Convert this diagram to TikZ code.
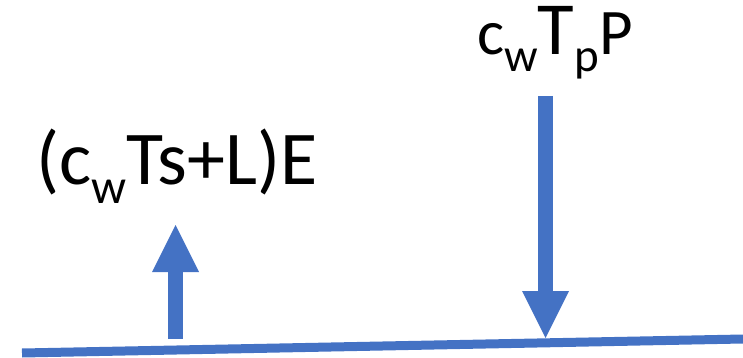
\documentclass[tikz,border=0pt]{standalone}
\usepackage{fontspec}
\setmainfont{Carlito}
\usetikzlibrary{arrows.meta}
\definecolor{beamblue}{RGB}{68,114,196}

\begin{document}
\begin{tikzpicture}[
  x=1pt, y=-1pt,
  lbl/.style={inner sep=0pt, anchor=base west, text=black},
  force/.style={beamblue, line width=15.6pt,
                -{Triangle[length=47pt, width=47pt, line width=0pt]}},
  beam/.style={beamblue, line width=9pt}
]
  \useasboundingbox (0,0) rectangle (743,358);
  % beam
  \coordinate (bl) at (22,353);
  \coordinate (br) at (743,339);
  \draw[beam] (bl) -- (br);
  % forces
  \coordinate (upfoot) at (175.5,339);
  \coordinate (uptip) at (175.5,225);
  \coordinate (dntail) at (545.5,96);
  \coordinate (dntip) at (545.5,338);
  \draw[force] (upfoot) -- (uptip);
  \draw[force] (dntail) -- (dntip);
  % labels
  \node[lbl] (react) at (36,184) {\fontsize{76}{76}\selectfont
    (c\raisebox{-19pt}{\fontsize{49}{49}\selectfont w}Ts+L)E};
  \node[lbl] (load) at (477,55) {{\fontsize{64}{64}\selectfont c}%
    \raisebox{-17pt}{\fontsize{47}{47}\selectfont w}%
    {\fontsize{75}{75}\selectfont T}%
    \raisebox{-17pt}{\fontsize{47}{47}\selectfont p}%
    {\fontsize{65}{65}\selectfont P}};
\end{tikzpicture}
\end{document}
